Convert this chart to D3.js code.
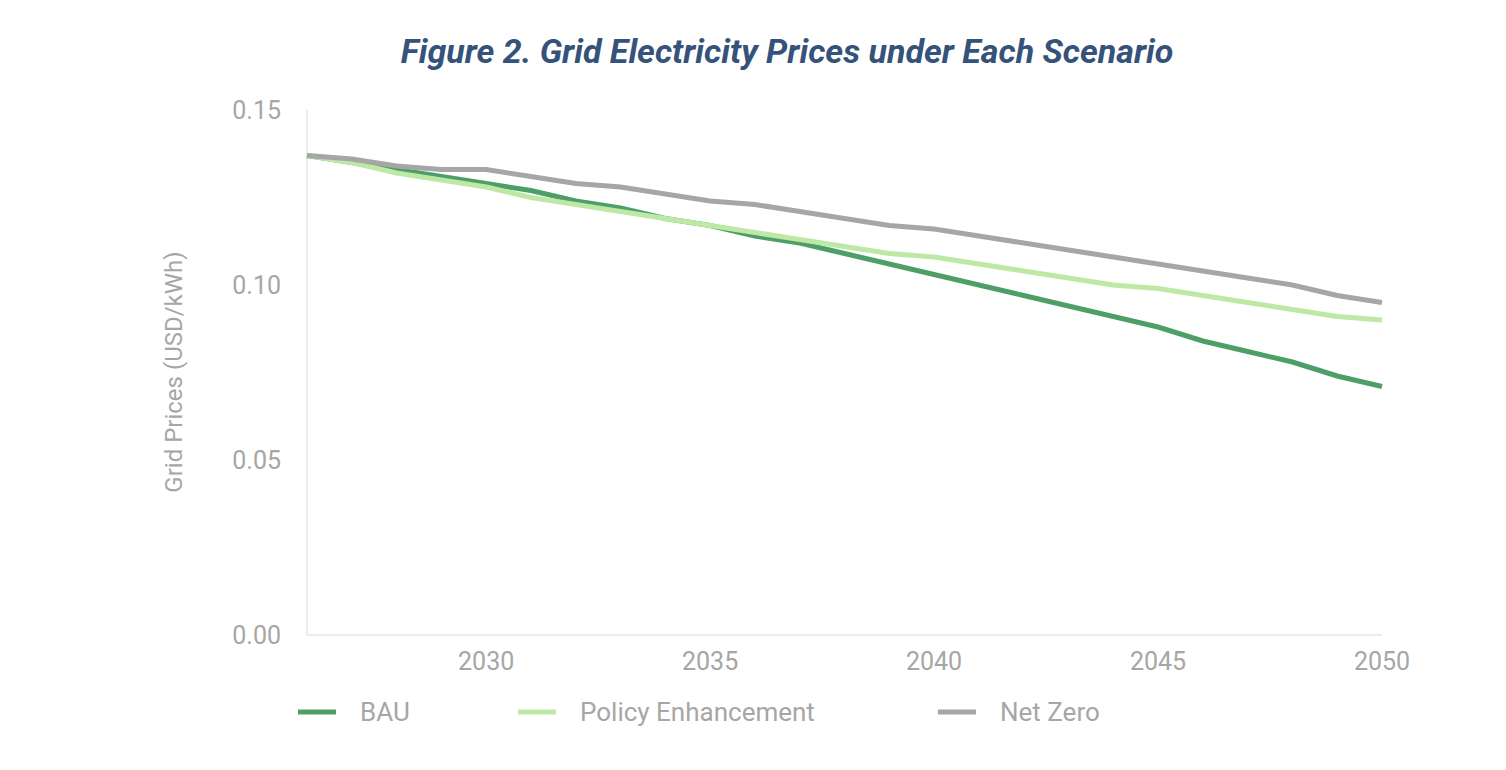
<!DOCTYPE html>
<html><head><meta charset="utf-8">
<script src="https://cdn.jsdelivr.net/npm/d3@7"></script>
<style>body{margin:0;background:#fff;font-family:Roboto,"Noto Sans",sans-serif}</style>
</head><body><svg width="1506" height="770"></svg>
<script>
var years = d3.range(2026, 2051);
var bau = [0.137,0.135,0.133,0.131,0.129,0.127,0.124,0.122,0.119,0.117,0.114,0.112,0.109,0.106,0.103,0.100,0.097,0.094,0.091,0.088,0.084,0.081,0.078,0.074,0.071];
var policy = [0.137,0.135,0.132,0.130,0.128,0.125,0.123,0.121,0.119,0.117,0.115,0.113,0.111,0.109,0.108,0.106,0.104,0.102,0.100,0.099,0.097,0.095,0.093,0.091,0.090];
var netZero = [0.137,0.136,0.134,0.133,0.133,0.131,0.129,0.128,0.126,0.124,0.123,0.121,0.119,0.117,0.116,0.114,0.112,0.110,0.108,0.106,0.104,0.102,0.100,0.097,0.095];
var seriesNames = ['BAU', 'Policy Enhancement', 'Net Zero'];
var colors = ['#4e9f67', '#bde8a6', '#a6a6a6'];
var yTicks = [0, 0.05, 0.10, 0.15];
var xTicks = [2030, 2035, 2040, 2045, 2050];

var svg = d3.select('svg');
var x = d3.scaleLinear().domain([2026, 2050]).range([307, 1382]);
var y = d3.scaleLinear().domain([0, 0.15]).range([635, 110]);

svg.append('text').attr('x', 787).attr('y', 63).attr('text-anchor', 'middle')
  .style('font-size', '34px').style('font-weight', 'bold').style('font-style', 'italic')
  .attr('fill', '#35537a').text('Figure 2. Grid Electricity Prices under Each Scenario');

// axes lines
svg.append('line').attr('x1', x(2026)).attr('x2', x(2026)).attr('y1', y(0.15)).attr('y2', y(0)).attr('stroke', '#d9d9d9');
svg.append('line').attr('x1', x(2026)).attr('x2', x(2050)).attr('y1', y(0)).attr('y2', y(0)).attr('stroke', '#d9d9d9');

svg.selectAll('.yt').data(yTicks).join('text')
  .attr('x', 281).attr('y', d => y(d) + 9).attr('text-anchor', 'end')
  .attr('fill', '#a6a6a6').style('font-size', '25px').text(d => d.toFixed(2));
svg.selectAll('.xt').data(xTicks).join('text')
  .attr('x', d => x(d)).attr('y', 670).attr('text-anchor', 'middle')
  .attr('fill', '#a6a6a6').style('font-size', '25px').text(d => d);

svg.append('text').attr('transform', 'translate(182,372)rotate(-90)').attr('text-anchor', 'middle')
  .attr('fill', '#a6a6a6').style('font-size', '24px').text('Grid Prices (USD/kWh)');

var line = d3.line().x((d, i) => x(years[i])).y(d => y(d));
[bau, policy, netZero].forEach(function (s, i) {
  svg.append('path').attr('d', line(s)).attr('fill', 'none')
    .attr('stroke', colors[i]).attr('stroke-width', 5);
});

var legX = [298, 518, 938];
seriesNames.forEach(function (n, i) {
  svg.append('line').attr('x1', legX[i]).attr('x2', legX[i] + 38).attr('y1', 712).attr('y2', 712)
    .attr('stroke', colors[i]).attr('stroke-width', 5);
  svg.append('text').attr('x', legX[i] + 62).attr('y', 721).attr('fill', '#a6a6a6')
    .style('font-size', '26px').text(n);
});
</script></body></html>
